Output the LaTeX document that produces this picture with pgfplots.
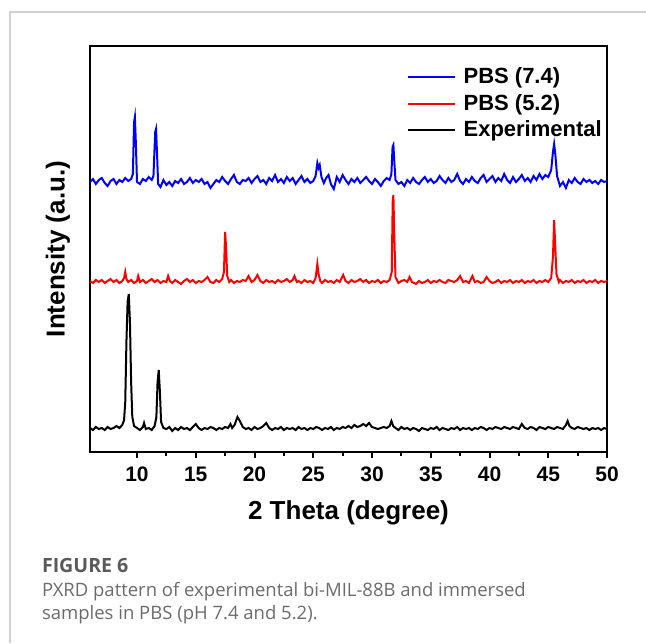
\documentclass[border=0pt]{standalone}
\usepackage{fontspec}
\setmainfont{Liberation Sans}
\newfontfamily\capfont{Open Sans}
\usepackage{pgfplots}
\usepackage{pgfplotstable}
\pgfplotsset{compat=1.18}

\definecolor{capgray}{HTML}{6B6B6B}
\definecolor{figgray}{HTML}{5A5A5A}
\definecolor{framegray}{HTML}{D0D0D0}

% PBS pH 7.4
\pgfplotstableread{
x y
6.00 270
6.25 273
6.50 268
6.75 272
7.00 274
7.25 269
7.50 266
7.75 271
8.00 273
8.25 268
8.50 272
8.75 270
9.00 274
9.25 271
9.50 273
9.65 278
9.75 330
9.82 335
9.90 310
10.00 270
10.25 268
10.50 273
10.75 271
11.00 275
11.25 272
11.40 276
11.55 320
11.62 323
11.70 300
11.80 268
12.00 265
12.25 272
12.50 267
12.75 270
13.00 266
13.25 271
13.50 269
13.75 273
14.00 268
14.25 270
14.50 274
14.75 269
15.00 272
15.25 270
15.50 273
15.75 268
16.00 270
16.25 264
16.50 268
16.75 272
17.00 270
17.25 275
17.50 271
17.75 268
18.00 273
18.25 277
18.50 270
18.75 268
19.00 272
19.25 271
19.50 274
19.75 269
20.00 273
20.25 276
20.50 270
20.75 272
21.00 268
21.25 274
21.50 271
21.75 277
22.00 270
22.25 273
22.50 269
22.75 275
23.00 271
23.25 274
23.50 268
23.75 272
24.00 276
24.25 270
24.50 273
24.75 269
25.00 271
25.20 276
25.35 289
25.45 284
25.55 287
25.70 275
25.90 269
26.10 274
26.30 277
26.50 268
26.75 263
27.00 275
27.25 270
27.50 277
27.75 272
28.00 268
28.25 273
28.50 270
28.75 274
29.00 269
29.25 272
29.50 275
29.75 271
30.00 268
30.25 273
30.50 270
30.75 266
31.00 271
31.25 274
31.50 272
31.65 278
31.75 305
31.82 307
31.90 290
32.00 272
32.25 268
32.50 270
32.75 266
33.00 272
33.25 269
33.50 274
33.75 270
34.00 268
34.25 272
34.50 275
34.75 270
35.00 273
35.25 269
35.50 271
35.75 276
36.00 272
36.25 269
36.50 274
36.75 270
37.00 272
37.25 278
37.50 271
37.75 268
38.00 273
38.25 270
38.50 275
38.75 271
39.00 269
39.25 274
39.50 277
39.75 270
40.00 273
40.25 276
40.50 270
40.75 274
41.00 271
41.25 278
41.50 272
41.75 269
42.00 275
42.25 270
42.50 273
42.75 277
43.00 271
43.25 274
43.50 270
43.75 276
44.00 272
44.25 278
44.50 273
44.75 277
45.00 275
45.25 282
45.40 300
45.50 308
45.60 298
45.75 276
46.00 266
46.25 270
46.50 264
46.75 272
47.00 269
47.25 274
47.50 270
47.75 268
48.00 273
48.25 270
48.50 272
48.75 269
49.00 271
49.25 268
49.50 272
49.75 270
50.00 271
}\pbsA

% PBS pH 5.2
\pgfplotstableread{
x y
6.00 171
6.25 169
6.50 172
6.75 170
7.00 172
7.25 169
7.50 171
7.75 173
8.00 170
8.25 172
8.50 169
8.75 171
8.90 174
9.00 180
9.10 173
9.25 170
9.50 172
9.75 169
10.00 171
10.10 176
10.25 170
10.50 172
10.75 169
11.00 171
11.25 173
11.50 170
11.75 172
12.00 169
12.25 171
12.50 170
12.65 176
12.80 171
13.00 169
13.25 172
13.50 170
13.75 168
14.00 171
14.25 173
14.50 170
14.75 172
15.00 169
15.25 171
15.50 170
15.75 172
16.00 175
16.25 170
16.50 169
16.75 172
17.00 170
17.25 173
17.40 180
17.50 220
17.58 205
17.68 176
17.85 170
18.00 172
18.25 169
18.50 171
18.75 170
19.00 172
19.25 171
19.50 176
19.75 170
20.00 172
20.25 177
20.50 171
20.75 169
21.00 172
21.25 170
21.50 171
21.75 169
22.00 172
22.25 170
22.50 171
22.75 173
23.00 170
23.25 172
23.40 176
23.60 170
23.75 171
24.00 169
24.25 172
24.50 170
24.75 171
25.00 169
25.20 174
25.35 188
25.45 178
25.60 171
25.75 169
26.00 172
26.25 170
26.50 171
26.75 169
27.00 172
27.25 170
27.55 177
27.75 171
28.00 169
28.25 172
28.50 170
28.75 171
29.00 173
29.25 170
29.50 172
29.75 169
30.00 171
30.25 170
30.50 172
30.75 169
31.00 171
31.25 170
31.50 172
31.68 180
31.76 250
31.82 257
31.90 215
32.00 175
32.25 169
32.50 171
32.75 172
33.00 170
33.20 175
33.40 170
33.75 168
34.00 171
34.25 169
34.50 170
34.75 172
35.00 169
35.25 171
35.50 170
35.75 172
36.00 170
36.25 169
36.50 172
36.75 171
37.00 170
37.25 172
37.50 176
37.75 170
38.00 171
38.25 169
38.55 176
38.75 170
39.00 171
39.25 169
39.50 170
39.75 175
40.00 171
40.25 169
40.50 170
40.75 172
41.00 169
41.25 171
41.50 170
41.75 172
42.00 169
42.25 171
42.50 170
42.75 172
43.00 169
43.25 171
43.50 170
43.75 172
44.00 169
44.25 171
44.50 170
44.75 172
45.00 170
45.25 174
45.40 195
45.50 232
45.58 210
45.70 178
45.90 170
46.00 172
46.25 169
46.50 171
46.75 170
47.00 172
47.25 169
47.50 171
47.75 170
48.00 172
48.25 169
48.50 171
48.75 170
49.00 172
49.25 169
49.50 171
49.75 170
50.00 171
}\pbsB

% experimental bi-MIL-88B
\pgfplotstableread{
x y
6.00 24
6.25 22
6.50 25
6.75 23
7.00 24
7.25 22
7.50 25
7.75 23
8.00 24
8.25 26
8.50 24
8.75 27
8.90 32
9.00 50
9.10 110
9.20 150
9.30 158
9.40 130
9.50 70
9.60 35
9.75 26
10.00 24
10.25 22
10.50 25
10.60 29
10.75 23
11.00 24
11.25 22
11.50 26
11.65 35
11.75 70
11.85 82
11.95 60
12.05 30
12.25 24
12.50 23
12.75 25
13.00 21
13.25 24
13.50 22
13.75 25
14.00 23
14.25 24
14.50 22
14.75 25
15.00 28
15.25 24
15.50 22
15.75 24
16.00 23
16.25 25
16.50 24
16.75 22
17.00 24
17.25 23
17.50 25
17.75 24
17.95 28
18.10 24
18.30 27
18.55 35
18.75 31
19.00 25
19.25 23
19.50 24
19.75 22
20.00 25
20.25 23
20.50 24
20.75 26
21.00 29
21.25 24
21.50 22
21.75 24
22.00 23
22.25 25
22.50 22
22.75 24
23.00 23
23.25 24
23.50 22
23.75 25
24.00 23
24.25 24
24.50 22
24.75 24
25.00 23
25.25 25
25.50 24
25.75 22
26.00 24
26.25 23
26.50 25
26.75 22
27.00 24
27.25 23
27.50 25
27.75 24
28.00 26
28.25 24
28.50 27
28.75 25
29.00 26
29.25 28
29.50 26
29.75 29
30.00 25
30.25 24
30.50 23
30.75 24
31.00 25
31.25 24
31.50 26
31.65 31
31.80 26
32.00 24
32.25 22
32.50 25
32.75 23
33.00 24
33.25 22
33.50 24
33.75 23
34.00 21
34.25 24
34.50 23
34.75 22
35.00 24
35.25 23
35.50 25
35.75 22
36.00 24
36.25 23
36.50 22
36.75 24
37.00 23
37.25 25
37.50 22
37.75 24
38.00 23
38.25 24
38.50 22
38.75 24
39.00 23
39.25 25
39.50 24
39.75 22
40.00 24
40.25 23
40.50 25
40.75 24
41.00 23
41.25 25
41.50 24
41.75 23
42.00 25
42.25 24
42.50 23
42.75 28
43.00 24
43.25 23
43.50 25
43.75 24
44.00 22
44.25 25
44.50 24
44.75 23
45.00 25
45.25 24
45.50 23
45.75 25
46.00 24
46.25 23
46.50 27
46.65 31
46.80 26
47.00 24
47.25 23
47.50 25
47.75 24
48.00 23
48.25 24
48.50 22
48.75 24
49.00 23
49.25 24
49.50 22
49.75 24
50.00 23
}\expt

\begin{document}
\begin{tikzpicture}
\useasboundingbox (0pt,0pt) rectangle (323pt,321.5pt);
% page frame
\draw[framegray, line width=0.6pt] (5pt,0pt) -- (5pt,315.5pt) -- (323pt,315.5pt);

\begin{axis}[
  at={(45pt,95.5pt)}, anchor=south west,
  scale only axis, width=258.5pt, height=203pt,
  xmin=6, xmax=50, ymin=0, ymax=406,
  xtick={10,15,...,50}, minor x tick num=1,
  ytick=\empty,
  xtick pos=left, tick align=outside,
  major tick length=3pt, minor tick length=2pt,
  every tick/.style={black, line width=1pt},
  axis line style={line width=1pt},
  /pgf/number format/assume math mode=true,
  xticklabel style={font=\fontsize{10.5}{12}\selectfont\bfseries, yshift=-1pt},
  xlabel={2 Theta (degree)},
  ylabel={Intensity (a.u.)},
  every axis x label/.style={at={(axis description cs:0.5,-0.15)}, anchor=center, font=\fontsize{13}{15}\selectfont\bfseries},
  every axis y label/.style={at={(axis description cs:-0.062,0.5)}, anchor=center, rotate=90, font=\fontsize{13}{15}\selectfont\bfseries},
  legend style={at={(rel axis cs:1.01,0.967)}, anchor=north east, draw=none, fill=none,
    font=\fontsize{11}{13}\selectfont\bfseries, row sep=-0.25pt,
    /tikz/every even column/.append style={column sep=2pt}},
  legend cell align=left,
  legend image code/.code={\draw[#1, line width=0.9pt] (0pt,0pt) -- (23.5pt,0pt); \path (25.5pt,0pt);},
]
\addplot[blue, line width=1pt] table[x=x, y=y] {\pbsA};
\addlegendentry{PBS (7.4)}
\addplot[red, line width=1pt] table[x=x, y=y] {\pbsB};
\addlegendentry{PBS (5.2)}
\addplot[black, line width=1pt] table[x=x, y=y] {\expt};
\addlegendentry{Experimental}
\end{axis}

% caption
\node[anchor=base west, inner sep=0pt, text=figgray, font=\capfont\bfseries\fontsize{9.8}{12}\selectfont] at (20.8pt,35.5pt) {FIGURE 6};
\node[anchor=base west, inner sep=0pt, text=capgray, font=\capfont\fontsize{9.25}{11}\selectfont] at (20.8pt,23.5pt) {PXRD pattern of experimental bi-MIL-88B and immersed};
\node[anchor=base west, inner sep=0pt, text=capgray, font=\capfont\fontsize{9.25}{11}\selectfont] at (20.8pt,12pt) {samples in PBS (pH 7.4 and 5.2).};
\end{tikzpicture}
\end{document}
